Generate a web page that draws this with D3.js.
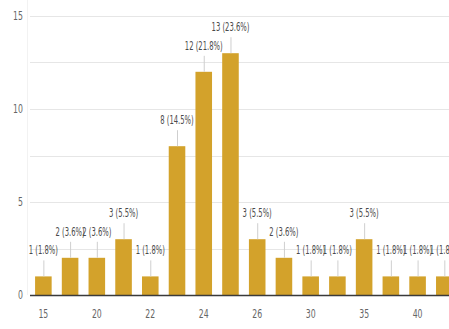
<!DOCTYPE html>
<html><head><meta charset="utf-8">
<script src="https://cdn.jsdelivr.net/npm/d3@7/dist/d3.min.js"></script>
<style>
html,body{margin:0;padding:0;background:#fff;overflow:hidden;}
svg{display:block;}
text{font-family:"Liberation Sans Narrow","DejaVu Sans Condensed","Liberation Sans",sans-serif;}
</style></head><body>
<svg id="c" width="449" height="329"></svg>
<script>
const categories = ["15","18","20","21","22","23","24","25","26","27","30","32","35","38","40","45"];
const counts = [1,2,2,3,1,8,12,13,3,2,1,1,3,1,1,1];
const percents = ["1.8%","3.6%","3.6%","5.5%","1.8%","14.5%","21.8%","23.6%","5.5%","3.6%","1.8%","1.8%","5.5%","1.8%","1.8%","1.8%"];
const shownTicks = ["15","20","22","24","26","30","35","40"];
const yTickLabels = [0,5,10,15];
const gridValues = [2.5,5,7.5,10,12.5,15];

(function(){
const svg = d3.select("#c");
const pL = 30, pR = 30 + 16*26.73, pT = 16, pB = 295;
const x = d3.scaleBand().domain(categories).range([pL, pR]).paddingInner(0.38).paddingOuter(0.19);
const y = d3.scaleLinear().domain([0,15]).range([pB, pT]);
const sx = 0.72, sv = 0.66;

svg.append("line").attr("x1",27.5).attr("x2",27.5).attr("y1",0).attr("y2",pB).attr("stroke","#f2f2f2");

svg.append("g").selectAll("line").data(gridValues).join("line")
  .attr("x1",pL).attr("x2",449).attr("y1",d=>Math.round(y(d))+0.5).attr("y2",d=>Math.round(y(d))+0.5)
  .attr("stroke","#e6e6e6").attr("stroke-width",1);

svg.append("g").selectAll("text").data(yTickLabels).join("text")
  .attr("transform",d=>`translate(23,${y(d)+4}) scale(${sx},1)`)
  .attr("text-anchor","end").attr("font-size",12).attr("fill","#666").text(d=>d);

svg.append("g").selectAll("rect").data(categories).join("rect")
  .attr("x",d=>x(d)).attr("width",x.bandwidth())
  .attr("y",(d,i)=>y(counts[i])).attr("height",(d,i)=>pB-y(counts[i]))
  .attr("fill","#d3a22b");

svg.append("g").selectAll("line").data(categories).join("line")
  .attr("x1",d=>x(d)+x.bandwidth()/2+0.5).attr("x2",d=>x(d)+x.bandwidth()/2+0.5)
  .attr("y1",(d,i)=>y(counts[i])).attr("y2",(d,i)=>y(counts[i])-16)
  .attr("stroke","#cfcfcf").attr("stroke-width",1);

svg.append("g").selectAll("text").data(categories).join("text")
  .attr("transform",(d,i)=>`translate(${x(d)+x.bandwidth()/2},${y(counts[i])-22}) scale(${sv},1)`)
  .attr("text-anchor","middle").attr("font-size",11.5).attr("fill","#4a4a4a")
  .text((d,i)=>`${counts[i]} (${percents[i]})`);

svg.append("line").attr("x1",pL).attr("x2",449).attr("y1",pB+0.5).attr("y2",pB+0.5)
  .attr("stroke","#3a3a3a").attr("stroke-width",1.5);

svg.append("g").selectAll("text").data(shownTicks).join("text")
  .attr("transform",d=>`translate(${x(d)+x.bandwidth()/2},${318}) scale(${sx},1)`)
  .attr("text-anchor","middle").attr("font-size",12).attr("fill","#666").text(d=>d);
})();
</script>
</body></html>
